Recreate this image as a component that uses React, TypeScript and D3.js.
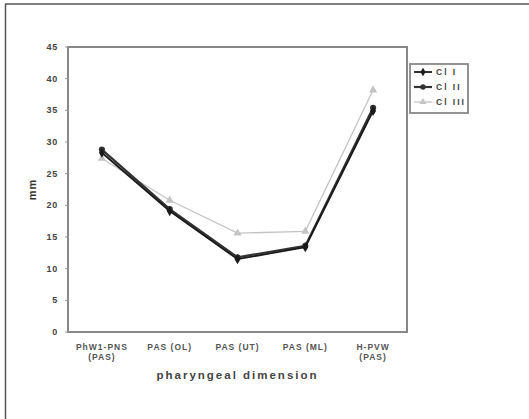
import React, { useEffect, useRef } from 'react';
import * as d3 from 'd3';

const categories = ['PhW1-PNS|(PAS)', 'PAS (OL)', 'PAS (UT)', 'PAS (ML)', 'H-PVW|(PAS)'];
const seriesNames = ['Cl I', 'Cl II', 'Cl III'];
const clI = [28.3, 19.1, 11.5, 13.4, 34.9];
const clII = [28.8, 19.4, 11.8, 13.6, 35.4];
const clIII = [27.4, 20.8, 15.6, 15.9, 38.2];
const yTicks = [0, 5, 10, 15, 20, 25, 30, 35, 40, 45];

export default function App() {
    const ref = useRef<SVGSVGElement | null>(null);

    useEffect(() => {
        if (!ref.current) return;
        const svg = d3.select(ref.current);
        svg.selectAll('*').remove();

        const W = 529, H = 419;
        const m = { left: 68, top: 47, right: 407, bottom: 332 };
        const font = 'Arial, "Liberation Sans", sans-serif';

        svg.append('rect').attr('width', W).attr('height', H).attr('fill', '#fff');
        // scanned page edges (top and left)
        svg.append('line').attr('x1', 5).attr('x2', W).attr('y1', 4).attr('y2', 4)
            .attr('stroke', '#555').attr('stroke-width', 1.5);
        svg.append('line').attr('x1', 5.5).attr('x2', 5.5).attr('y1', 4).attr('y2', H)
            .attr('stroke', '#555').attr('stroke-width', 1.5);

        const x = d3.scalePoint<string>().domain(categories).range([m.left, m.right]).padding(0.5);
        const y = d3.scaleLinear().domain([0, 45]).range([m.bottom, m.top]);

        // plot frame
        svg.append('rect')
            .attr('x', m.left).attr('y', m.top)
            .attr('width', m.right - m.left).attr('height', m.bottom - m.top)
            .attr('fill', 'none').attr('stroke', '#888').attr('stroke-width', 2);

        // y axis ticks & labels
        const yg = svg.append('g');
        yTicks.forEach(t => {
            yg.append('line').attr('x1', m.left - 3).attr('x2', m.left)
                .attr('y1', y(t)).attr('y2', y(t)).attr('stroke', '#999').attr('stroke-width', 1);
            yg.append('text').attr('x', 58).attr('y', y(t) + 3)
                .attr('text-anchor', 'end').attr('font-family', font).attr('font-weight', 'bold')
                .attr('font-size', 9).attr('letter-spacing', 0.8).attr('fill', '#444').text(t);
        });
        svg.append('text')
            .attr('transform', `translate(36,${(m.top + m.bottom) / 2}) rotate(-90)`)
            .attr('text-anchor', 'middle').attr('font-family', font).attr('font-weight', 'bold')
            .attr('font-size', 11).attr('letter-spacing', 1).attr('fill', '#333').text('mm');

        // x axis labels
        categories.forEach(c => {
            const lines = c.split('|');
            const t = svg.append('text').attr('text-anchor', 'middle')
                .attr('font-family', font).attr('font-weight', 'bold')
                .attr('font-size', 8.5).attr('letter-spacing', 1).attr('fill', '#555');
            lines.forEach((l, i) => {
                t.append('tspan').attr('x', x(c)!).attr('y', 350 + i * 10).text(l);
            });
        });
        svg.append('text').attr('x', (m.left + m.right) / 2).attr('y', 379)
            .attr('text-anchor', 'middle').attr('font-family', font).attr('font-weight', 'bold')
            .attr('font-size', 11.5).attr('letter-spacing', 2).attr('fill', '#444')
            .text('pharyngeal dimension');

        const series = [
            { name: seriesNames[0], values: clI, color: '#1a1a1a', width: 1.8, marker: 'diamond' },
            { name: seriesNames[1], values: clII, color: '#333', width: 2.2, marker: 'circle' },
            { name: seriesNames[2], values: clIII, color: '#c4c4c4', width: 1.3, marker: 'triangle' },
        ];
        const symbolOf = (k: string) =>
            k === 'diamond' ? d3.symbolDiamond : k === 'circle' ? d3.symbolCircle : d3.symbolTriangle;

        const line = d3.line<number>().x((_, i) => x(categories[i])!).y(d => y(d));

        // draw light series first so dark lines sit on top
        [...series].reverse().forEach(s => {
            svg.append('path').datum(s.values).attr('d', line)
                .attr('fill', 'none').attr('stroke', s.color).attr('stroke-width', s.width);
            svg.selectAll(null).data(s.values).enter().append('path')
                .attr('transform', (d, i) => `translate(${x(categories[i])},${y(d)})`)
                .attr('d', d3.symbol().type(symbolOf(s.marker)).size(30)())
                .attr('fill', s.color);
        });

        // legend
        const lg = svg.append('g');
        lg.append('rect').attr('x', 410).attr('y', 64).attr('width', 58).attr('height', 49)
            .attr('fill', '#fff').attr('stroke', '#888').attr('stroke-width', 1.8);
        series.forEach((s, i) => {
            const ly = 72 + i * 15;
            lg.append('line').attr('x1', 414).attr('x2', 432).attr('y1', ly).attr('y2', ly)
                .attr('stroke', s.color).attr('stroke-width', s.width);
            lg.append('path').attr('transform', `translate(423,${ly})`)
                .attr('d', d3.symbol().type(symbolOf(s.marker)).size(22)())
                .attr('fill', s.color);
            lg.append('text').attr('x', 436).attr('y', ly + 3)
                .attr('font-family', font).attr('font-weight', 'bold').attr('font-size', 8.5)
                .attr('letter-spacing', 2).attr('fill', '#444').text(s.name);
        });
    }, []);

    return (
        <svg ref={ref} width={529} height={419}
            style={{ position: 'absolute', left: 0, top: 0, display: 'block' }} />
    );
}
